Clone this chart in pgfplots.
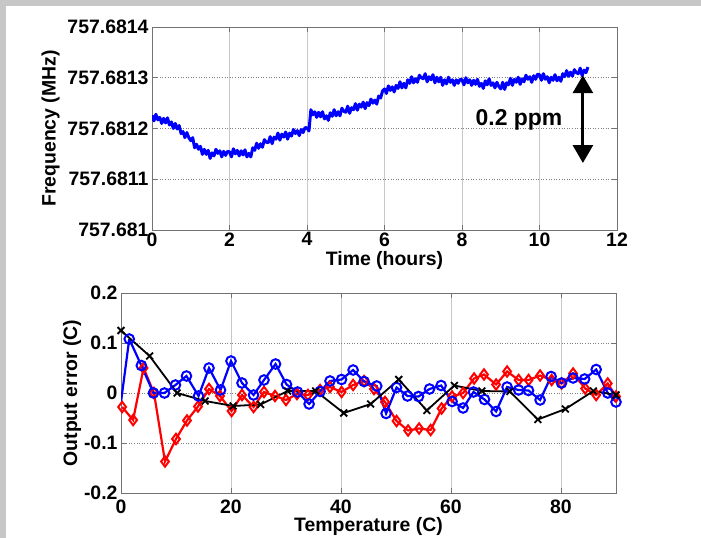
\documentclass[border=0pt]{standalone}
\usepackage{fontspec}
\setmainfont{Liberation Sans}
\usepackage{pgfplots}
\pgfplotsset{compat=1.18}
\usetikzlibrary{arrows.meta}

\pgfplotsset{
  matfig/.style={
    scale only axis,
    axis line style={black!55, line width=0.6bp},
    tick style={black!55, line width=0.6bp},
    tick align=inside,
    major tick length=5bp,
    grid=major,
    x grid style={black!22, line width=0.5bp},
    y grid style={black!50, line width=0.6bp, dotted},
    tick label style={font=\bfseries\fontsize{19.5}{21}\selectfont},
    label style={font=\bfseries\fontsize{19.5}{21}\selectfont},
    /pgf/number format/assume math mode=true,
  }
}

\begin{document}
\begin{tikzpicture}
\useasboundingbox (0,0) rectangle (701bp,538bp);
\fill[white] (0,0) rectangle (701bp,538bp);
\fill[black!22] (0,532bp) rectangle (701bp,538bp);
\fill[black!22] (0,0) rectangle (6bp,538bp);

% frequency drift
\begin{axis}[matfig,
  at={(152bp,308bp)}, anchor=south west,
  width=465bp, height=203bp,
  xmin=0, xmax=12, ymin=0, ymax=4,
  xtick={0,2,...,12}, ytick={0,1,2,3,4},
  yticklabels={757.681,757.6811,757.6812,757.6813,757.6814},
  xticklabel style={yshift=1bp},
  xlabel={Time (hours)}, ylabel={Frequency (MHz)},
  xlabel style={at={(axis description cs:0.5,0)}, anchor=center, yshift=-30bp},
  ylabel style={at={(axis description cs:-0.218,0.5)}, anchor=center},
]
\addplot[blue, line width=3bp, line join=round, no marks] coordinates {
(0.00,2.26)(0.05,2.15)(0.10,2.28)(0.15,2.17)(0.20,2.22)(0.25,2.10)(0.30,2.20)(0.35,2.11)(0.40,2.21)(0.45,2.07)
(0.50,2.13)(0.55,2.00)(0.60,2.10)(0.65,1.99)(0.70,2.06)(0.75,1.90)(0.80,1.94)(0.85,1.82)(0.90,1.92)(0.95,1.82)
(1.00,1.76)(1.05,1.82)(1.10,1.62)(1.15,1.69)(1.20,1.59)(1.25,1.65)(1.30,1.49)(1.35,1.59)(1.40,1.49)(1.45,1.57)
(1.50,1.41)(1.55,1.52)(1.60,1.46)(1.65,1.59)(1.70,1.51)(1.75,1.56)(1.80,1.44)(1.85,1.55)(1.90,1.47)(1.95,1.55)
(2.00,1.54)(2.05,1.44)(2.10,1.60)(2.15,1.50)(2.20,1.57)(2.25,1.46)(2.30,1.56)(2.35,1.48)(2.40,1.58)(2.45,1.44)
(2.50,1.51)(2.55,1.44)(2.60,1.62)(2.65,1.57)(2.70,1.71)(2.75,1.61)(2.80,1.70)(2.85,1.63)(2.90,1.78)(2.95,1.73)
(3.00,1.72)(3.05,1.84)(3.10,1.70)(3.15,1.83)(3.20,1.79)(3.25,1.91)(3.30,1.77)(3.35,1.89)(3.40,1.83)(3.45,1.93)
(3.50,1.79)(3.55,1.91)(3.60,1.85)(3.65,1.98)(3.70,1.90)(3.75,1.96)(3.80,1.86)(3.85,1.98)(3.90,1.92)(3.95,2.02)
(4.00,2.01)(4.05,1.95)(4.10,2.37)(4.15,2.27)(4.20,2.33)(4.25,2.22)(4.30,2.32)(4.35,2.23)(4.40,2.33)(4.45,2.19)
(4.50,2.25)(4.55,2.16)(4.60,2.31)(4.65,2.24)(4.70,2.37)(4.75,2.25)(4.80,2.33)(4.85,2.25)(4.90,2.40)(4.95,2.34)
(5.00,2.32)(5.05,2.44)(5.10,2.30)(5.15,2.41)(5.20,2.37)(5.25,2.49)(5.30,2.36)(5.35,2.48)(5.40,2.42)(5.45,2.52)
(5.50,2.39)(5.55,2.51)(5.60,2.45)(5.65,2.58)(5.70,2.50)(5.75,2.56)(5.80,2.48)(5.85,2.64)(5.90,2.60)(5.95,2.74)
(6.00,2.78)(6.05,2.69)(6.10,2.84)(6.15,2.75)(6.20,2.82)(6.25,2.72)(6.30,2.85)(6.35,2.79)(6.40,2.92)(6.45,2.80)
(6.50,2.89)(6.55,2.80)(6.60,2.96)(6.65,2.89)(6.70,3.02)(6.75,2.90)(6.80,2.98)(6.85,2.91)(6.90,3.05)(6.95,3.00)
(7.00,2.98)(7.05,3.08)(7.10,2.92)(7.15,3.02)(7.20,2.96)(7.25,3.06)(7.30,2.90)(7.35,3.01)(7.40,2.92)(7.45,3.01)
(7.50,2.85)(7.55,2.96)(7.60,2.88)(7.65,3.01)(7.70,2.91)(7.75,2.96)(7.80,2.85)(7.85,2.96)(7.90,2.89)(7.95,2.97)
(8.00,2.96)(8.05,2.86)(8.10,3.00)(8.15,2.90)(8.20,2.96)(8.25,2.85)(8.30,2.95)(8.35,2.87)(8.40,2.97)(8.45,2.83)
(8.50,2.89)(8.55,2.79)(8.60,2.94)(8.65,2.86)(8.70,2.98)(8.75,2.85)(8.80,2.90)(8.85,2.80)(8.90,2.91)(8.95,2.83)
(9.00,2.78)(9.05,2.91)(9.10,2.77)(9.15,2.90)(9.20,2.86)(9.25,2.99)(9.30,2.85)(9.35,2.97)(9.40,2.91)(9.45,3.01)
(9.50,2.87)(9.55,2.98)(9.60,2.92)(9.65,3.05)(9.70,2.97)(9.75,3.02)(9.80,2.91)(9.85,3.04)(9.90,2.97)(9.95,3.07)
(10.00,3.06)(10.05,2.95)(10.10,3.08)(10.15,2.97)(10.20,3.02)(10.25,2.90)(10.30,3.01)(10.35,2.95)(10.40,3.06)(10.45,2.94)
(10.50,3.01)(10.55,2.93)(10.60,3.08)(10.65,3.02)(10.70,3.14)(10.75,3.03)(10.80,3.11)(10.85,3.03)(10.90,3.16)(10.95,3.10)
(11.00,3.08)(11.05,3.19)(11.10,3.04)(11.15,3.15)(11.20,3.10)(11.25,3.21)
};
\draw[black, line width=3bp, {Triangle[width=20bp,length=18bp]}-{Triangle[width=20bp,length=18bp]}]
  (axis cs:11.12,3.05) -- (axis cs:11.12,1.32);
\node[font=\bfseries\fontsize{23}{25}\selectfont] at (axis cs:9.47,2.17) {0.2 ppm};
\end{axis}

% output error
\begin{axis}[matfig,
  at={(121bp,45bp)}, anchor=south west,
  width=495bp, height=200bp,
  xmin=0, xmax=90, ymin=-0.2, ymax=0.2,
  xtick={0,20,...,80}, ytick={-0.2,-0.1,0,0.1,0.2},
  yticklabels={-0.2,-0.1,0,0.1,0.2},
  xticklabel style={yshift=-3bp},
  xlabel={Temperature (C)}, ylabel={Output error (C)},
  xlabel style={at={(axis description cs:0.5,0)}, anchor=center, yshift=-33bp},
  ylabel style={at={(axis description cs:-0.099,0.5)}, anchor=center},
]
\addplot[red, line width=2.2bp, mark=diamond, mark size=5.2bp, mark options={solid, line width=2bp}] coordinates {
(0.2,-0.028)(2.2,-0.054)(4.1,0.050)(6,0.000)(8,-0.137)(10,-0.092)(12,-0.055)(14,-0.027)(16,0.008)(18,-0.006)
(20.1,-0.036)(22,-0.004)(24.1,-0.028)(26,0.002)(28,-0.006)(30,-0.014)(32,-0.002)(34,-0.004)(36.2,0.006)(38,0.012)
(40.1,0.002)(42.2,0.016)(44.2,0.024)(46,0.008)(48,-0.018)(50.1,-0.056)(52.2,-0.075)(54.2,-0.071)(56.3,-0.074)(58.3,-0.031)
(60.2,-0.007)(62.2,0.000)(64.2,0.029)(66,0.037)(68.2,0.017)(70.2,0.043)(72.3,0.026)(74.1,0.026)(76.2,0.035)(78.3,0.026)
(80.1,0.019)(82.2,0.039)(84.4,0.009)(86.4,-0.004)(88.5,0.019)(90,-0.007)
};
\addplot[blue, line width=2.2bp, no marks] coordinates {(0,-0.018)(1.5,0.108)};
\addplot[blue, line width=2.2bp, mark=o, mark size=4.8bp, mark options={solid, line width=2bp}] coordinates {
(1.5,0.108)(3.7,0.055)(5.9,0.000)(7.9,0.000)(9.9,0.016)(11.9,0.034)(14.1,-0.006)(16,0.050)(18.1,0.006)(20,0.064)
(22,0.020)(24.1,-0.004)(26,0.026)(28.1,0.058)(30.1,0.017)(32.1,0.002)(34.2,-0.022)(36.2,0.003)(38,0.024)(40.1,0.027)
(42.2,0.046)(44.2,0.023)(46.5,0.014)(48.2,-0.041)(50.1,0.011)(52.1,-0.006)(54.1,-0.007)(56.1,0.008)(58.2,0.015)(60.2,-0.017)
(62.2,-0.030)(64.1,0.002)(66.1,-0.013)(68.2,-0.037)(70.2,0.012)(72.3,0.006)(74.1,0.005)(76.2,-0.014)(78.2,0.033)(80.1,0.020)
(82.2,0.030)(84.3,0.028)(86.4,0.047)(88.5,0.000)(90,-0.018)
};
\addplot[black, line width=1.8bp, mark=x, mark size=4.8bp, mark options={solid, line width=1.8bp}] coordinates {
(0,0.125)(5.2,0.074)(10.2,0.000)(15.3,-0.016)(20.4,-0.026)(25.4,-0.023)(30.3,0.004)(35.4,0.004)(40.5,-0.040)(45.4,-0.022)
(50.5,0.027)(55.6,-0.035)(60.6,0.015)(65.6,0.004)(70.7,0.003)(75.8,-0.053)(80.8,-0.032)(85.9,0.004)(90,-0.004)
};
\end{axis}
\end{tikzpicture}
\end{document}
